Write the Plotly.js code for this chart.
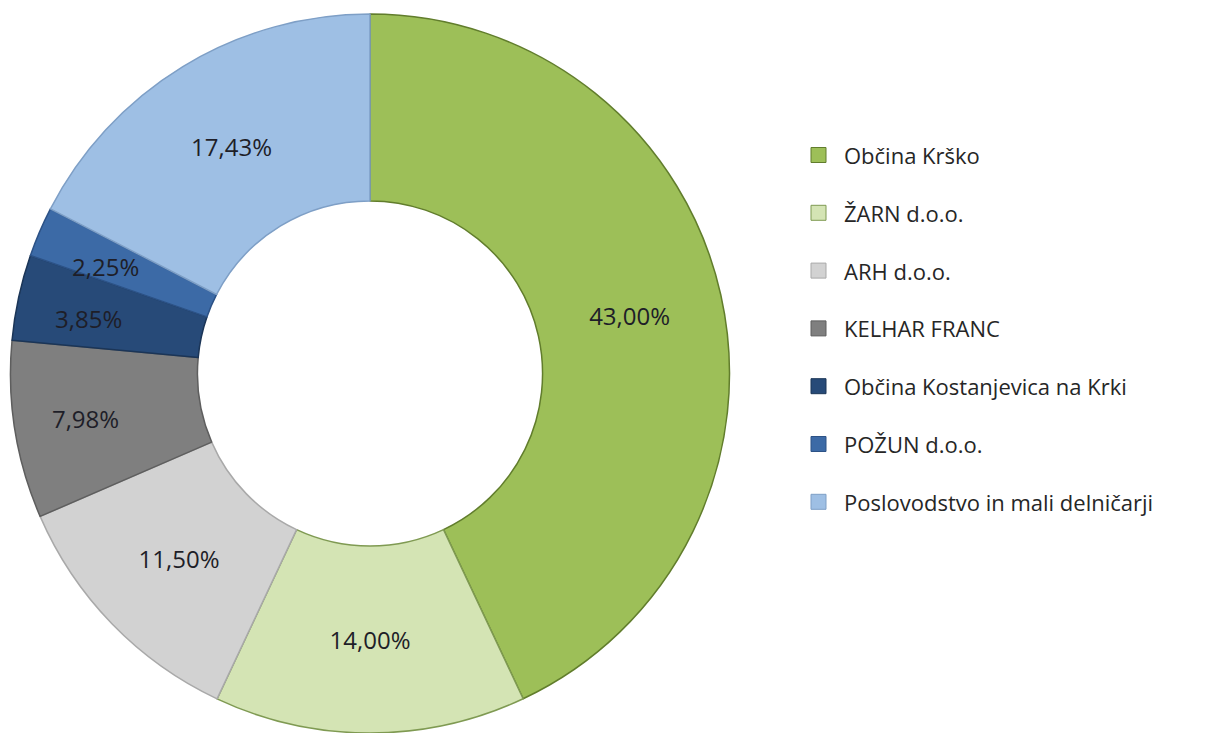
<!DOCTYPE html>
<html>
<head>
<meta charset="utf-8">
<script src="https://cdn.plot.ly/plotly-3.0.1.min.js"></script>
<style>
  html, body { margin: 0; padding: 0; background: #ffffff; overflow: hidden; }
  #chart { width: 1228px; height: 733px; }
</style>
</head>
<body>
<div id="chart"></div>
<script>
// ---- data ----
const labels = [
  "Občina Krško",
  "ŽARN d.o.o.",
  "ARH d.o.o.",
  "KELHAR FRANC",
  "Občina Kostanjevica na Krki",
  "POŽUN d.o.o.",
  "Poslovodstvo in mali delničarji"
];
const shares = [43.00, 14.00, 11.50, 7.98, 3.85, 2.25, 17.43];

// ---- styles ----
const sliceColors = ["#9dbf58", "#d4e4b4", "#d2d2d2", "#7f7f7f", "#274a78", "#3c6aa6", "#9ebfe4"];
const edgeColors  = ["#617d2c", "#7f9a52", "#a9a9a9", "#5e5e5e", "#1b3557", "#2c5286", "#7e9fc6"];
const FONT = 'Open Sans, Noto Sans, sans-serif';
const labelSize = 24;

const W = 1228, H = 733;
const cx = 370, cy = 373.5, R = 359.5;   // pie placement in px
const textLabels = shares.map(v => v.toFixed(2).replace('.', ',') + '%');

// small slices get their label placed from the data angle (as Excel does), others by Plotly
const total = shares.reduce((a, b) => a + b, 0);
const smallLimit = 5;
const textPos = shares.map(v => v < smallLimit ? 'none' : 'inside');

const pie = {
  type: 'pie',
  labels: labels,
  values: shares,
  text: textLabels,
  textinfo: 'text',
  textposition: textPos,
  insidetextorientation: 'horizontal',
  sort: false,
  direction: 'clockwise',
  rotation: 0,
  hole: 0.48,
  showlegend: false,
  marker: { colors: sliceColors, line: { color: edgeColors, width: 1.5 } },
  textfont: { family: FONT, size: labelSize, color: '#1e1e28' },
  domain: { x: [(cx - R) / W, (cx + R) / W], y: [1 - (cy + R) / H, 1 - (cy - R) / H] },
  hoverinfo: 'label+text'
};

const shapes = [];
const annotations = [];

// labels for the thin slices, at their bisector angle
let cum = 0;
shares.forEach((v, i) => {
  const mid = (cum + v / 2) / total;
  cum += v;
  if (v >= smallLimit) return;
  const ang = 2 * Math.PI * mid;
  const rr = 0.8 * R;
  const px = cx + rr * Math.sin(ang);
  const py = cy - rr * Math.cos(ang) + 6;
  annotations.push({
    xref: 'paper', yref: 'paper', x: px / W, y: 1 - py / H,
    xanchor: 'center', yanchor: 'middle', showarrow: false,
    text: textLabels[i],
    font: { family: FONT, size: labelSize, color: '#1e1e28' }
  });
});

// ---- manual legend (spaced like the reference) ----
const legX0 = 811, legSize = 15, legTextX = 842, legY0 = 155, legStep = 57.8;
labels.forEach((lab, i) => {
  const ly = legY0 + i * legStep;
  shapes.push({
    type: 'rect', xref: 'paper', yref: 'paper',
    x0: legX0 / W, x1: (legX0 + legSize) / W,
    y0: 1 - (ly + legSize / 2) / H, y1: 1 - (ly - legSize / 2) / H,
    fillcolor: sliceColors[i], line: { color: edgeColors[i], width: 1 }
  });
  annotations.push({
    xref: 'paper', yref: 'paper', x: legTextX / W, y: 1 - ly / H,
    xanchor: 'left', yanchor: 'middle', showarrow: false,
    text: lab,
    font: { family: FONT, size: 22, color: '#262626' }
  });
});

const layout = {
  width: W, height: H,
  margin: { l: 0, r: 0, t: 0, b: 0 },
  paper_bgcolor: '#ffffff',
  plot_bgcolor: '#ffffff',
  showlegend: false,
  uniformtext: { mode: 'show', minsize: labelSize },
  shapes: shapes,
  annotations: annotations
};

Plotly.newPlot('chart', [pie], layout, { displayModeBar: false, staticPlot: true });
</script>
</body>
</html>
